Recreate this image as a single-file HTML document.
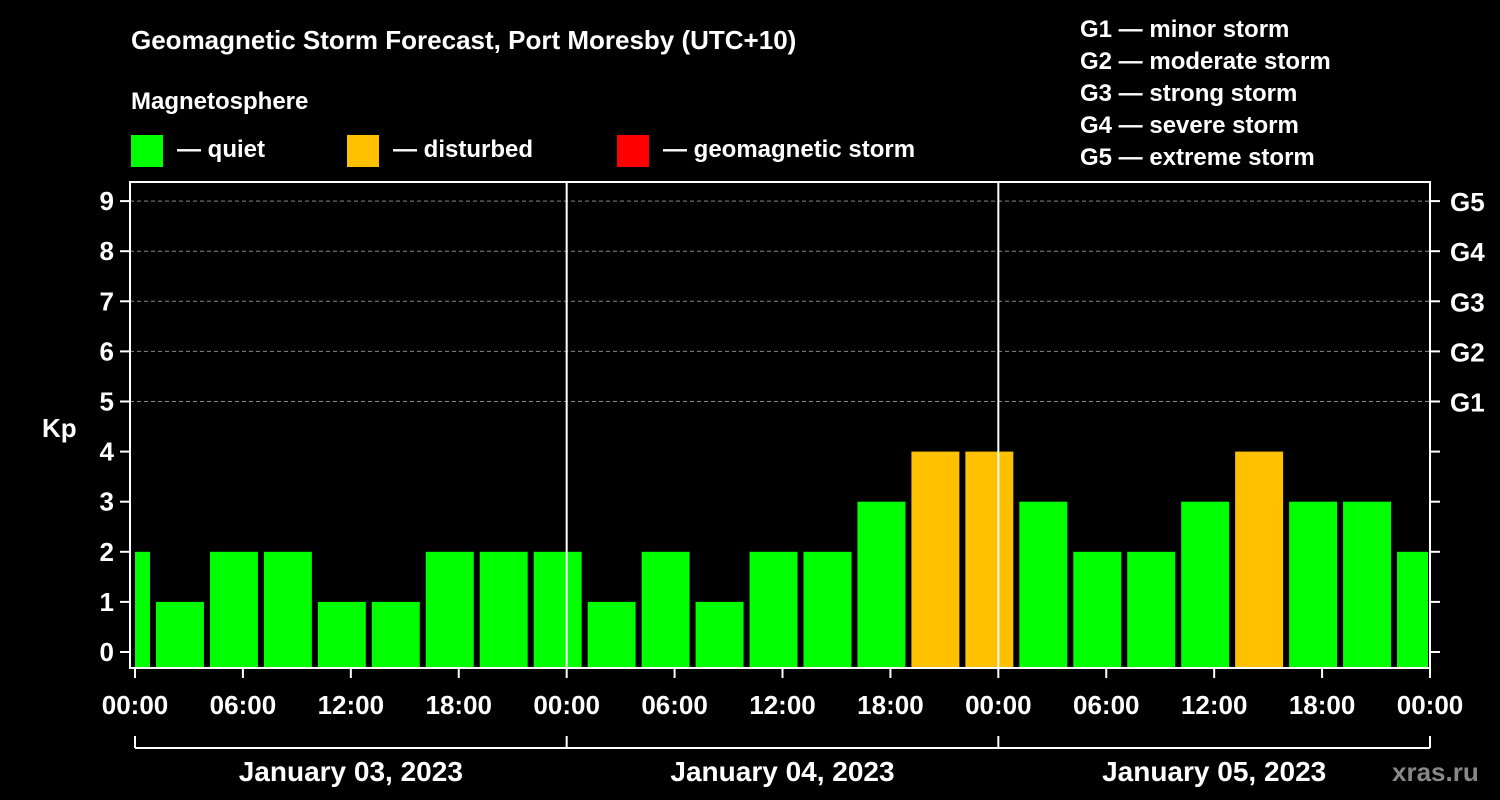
<!DOCTYPE html>
<html><head><meta charset="utf-8"><style>
body{margin:0;background:#000;}
svg{display:block;font-family:"Liberation Sans",Arial,sans-serif;font-weight:bold;}
</style></head><body>
<svg id="chart" width="1500" height="800" viewBox="0 0 1500 800">
<rect width="1500" height="800" fill="#000"/>
<text x="131" y="49" fill="#fff" font-size="26">Geomagnetic Storm Forecast, Port Moresby (UTC+10)</text>
<text x="131" y="109" fill="#fff" font-size="24">Magnetosphere</text>
<g><rect x="131" y="135" width="32" height="32" fill="#00ff00"/><text x="177" y="157" fill="#fff" font-size="24">— quiet</text></g>
<g><rect x="347" y="135" width="32" height="32" fill="#ffc000"/><text x="393" y="157" fill="#fff" font-size="24">— disturbed</text></g>
<g><rect x="617" y="135" width="32" height="32" fill="#ff0000"/><text x="663" y="157" fill="#fff" font-size="24">— geomagnetic storm</text></g>
<g fill="#fff" font-size="24">
<text x="1080" y="37">G1 — minor storm</text><text x="1080" y="69">G2 — moderate storm</text><text x="1080" y="101">G3 — strong storm</text><text x="1080" y="133">G4 — severe storm</text><text x="1080" y="165">G5 — extreme storm</text></g>
<text x="42" y="437" fill="#fff" font-size="26">Kp</text>
<text x="1392" y="781" fill="#888" font-size="26">xras.ru</text>
<g id="grid"></g><g id="bars"></g><g id="axes"></g>
</svg>
<script>
const kpValues=[2,1,2,2,1,1,2,2,2,1,2,1,2,2,3,4,4,3,2,2,3,4,3,3,2];
const kpTicks=[0,1,2,3,4,5,6,7,8,9];
const gLabels=["G1","G2","G3","G4","G5"];
const timeLabels=["00:00","06:00","12:00","18:00","00:00","06:00","12:00","18:00","00:00","06:00","12:00","18:00","00:00"];
const dateLabels=["January 03, 2023","January 04, 2023","January 05, 2023"];
const NS="http://www.w3.org/2000/svg";
const X0=135,X1=1430,PL=130,PT=182,PB=668;
const xHour=h=>X0+(X1-X0)*h/72;
const yKp=k=>652-50.1*k;
function mk(t,a,p){const e=document.createElementNS(NS,t);for(const k in a)e.setAttribute(k,a[k]);(p||document.getElementById('chart')).appendChild(e);return e;}
const grid=document.getElementById('grid'),bars=document.getElementById('bars'),axes=document.getElementById('axes');
for(let k=5;k<=9;k++){const l=mk('line',{x1:PL,x2:X1,y1:yKp(k),y2:yKp(k),stroke:'#888','stroke-dasharray':'4,3','stroke-width':1},grid);

}
kpValues.forEach((v,i)=>{const c=-0.5+3*i;let a=xHour(c-1.333),b=xHour(c+1.333);a=Math.max(a,X0);b=Math.min(b,X1-2);
const r=mk('rect',{x:a,y:yKp(v),width:b-a,height:PB-yKp(v),fill:v>=5?'#ff0000':(v>=4?'#ffc000':'#00ff00')},bars);

});
mk('rect',{x:PL,y:PT,width:X1-PL,height:PB-PT,fill:'none',stroke:'#fff','stroke-width':2},axes);
for(let d=1;d<3;d++){mk('line',{x1:xHour(24*d),x2:xHour(24*d),y1:PT,y2:PB,stroke:'#fff','stroke-width':2},axes);}
kpTicks.forEach(k=>{mk('line',{x1:PL-10,x2:PL,y1:yKp(k),y2:yKp(k),stroke:'#fff','stroke-width':2},axes);
mk('line',{x1:X1,x2:X1+10,y1:yKp(k),y2:yKp(k),stroke:'#fff','stroke-width':2},axes);
const t=mk('text',{x:PL-16,y:yKp(k)+9,fill:'#fff','font-size':26,'text-anchor':'end'},axes);t.textContent=k;

});
gLabels.forEach((g,i)=>{const t=mk('text',{x:1450,y:yKp(5+i)+10,fill:'#fff','font-size':26},axes);t.textContent=g;

});
timeLabels.forEach((s,i)=>{const x=xHour(6*i);mk('line',{x1:x,x2:x,y1:PB,y2:PB+10,stroke:'#fff','stroke-width':2},axes);
const t=mk('text',{x:x,y:714,fill:'#fff','font-size':26,'text-anchor':'middle'},axes);t.textContent=s;

});
mk('line',{x1:X0,x2:X1,y1:748,y2:748,stroke:'#fff','stroke-width':2},axes);
for(let d=0;d<=3;d++){const x=xHour(24*d);mk('line',{x1:x,x2:x,y1:736,y2:748,stroke:'#fff','stroke-width':2},axes);}
dateLabels.forEach((s,i)=>{const t=mk('text',{x:xHour(24*i+12),y:781,fill:'#fff','font-size':28,'text-anchor':'middle'},axes);t.textContent=s;

});
</script>
</body></html>
